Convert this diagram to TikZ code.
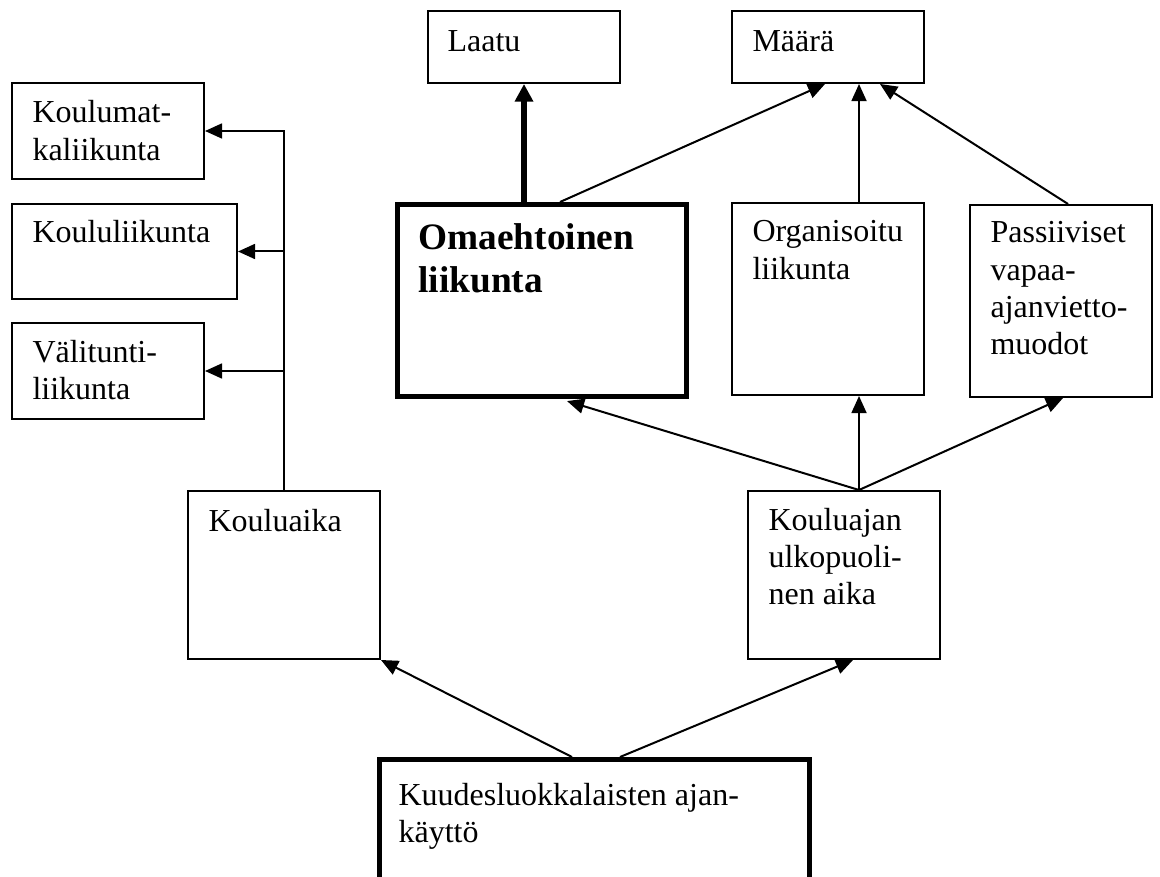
\documentclass[tikz,border=0pt]{standalone}
\usepackage{fontspec}
\setmainfont{Liberation Serif}
\usetikzlibrary{arrows.meta,calc}
\tikzset{
  sz/.style 2 args={minimum width=#1*0.375pt, minimum height=#2*0.375pt},
  box/.style={draw, line width=0.75pt, rectangle, inner sep=0pt, anchor=north west},
  tbox/.style={box, line width=1.9pt},
  lbl/.style={anchor=base west, inner sep=0pt, font=\fontsize{12}{13.9}\selectfont},
  blbl/.style={anchor=base west, inner sep=0pt, font=\fontsize{14}{15.8}\selectfont\bfseries},
  arr/.style={line width=0.75pt, -{Triangle[length=6.4pt,width=5.6pt]}},
  tarr/.style={line width=1.9pt, -{Triangle[length=6.6pt,width=6.6pt]}},
}
\newcommand{\lines}[1]{\parbox[t]{200pt}{\raggedright #1}}
\begin{document}
\begin{tikzpicture}[x=0.375pt, y=-0.375pt]
\useasboundingbox (0,0) rectangle (1160,876);
\clip (0,0) rectangle (1160,876);
% boxes
\node[box, sz={192}{96}]  (km)    at (11,82)   {};
\node[box, sz={225}{95}]  (kl)    at (11,203)  {};
\node[box, sz={192}{96}]  (vt)    at (11,322)  {};
\node[box, sz={192}{72}]  (laatu) at (427,10)  {};
\node[box, sz={192}{72}]  (maara) at (731,10)  {};
\node[tbox, sz={289}{192}] (omae) at (395,202) {};
\node[box, sz={192}{192}] (org)   at (731,202) {};
\node[box, sz={182}{192}] (pass)  at (969,204) {};
\node[box, sz={192}{168}] (ka)    at (187,490) {};
\node[box, sz={192}{168}] (kaj)   at (747,490) {};
\node[tbox, sz={430}{150}] (kuu)  at (377,757) {};
% texts
\node[lbl] (km-t) at ($(km.north west)+(21,41)$) {\lines{Koulumat-\\kaliikunta}};
\node[lbl] (kl-t) at ($(kl.north west)+(21,40)$) {\lines{Koululiikunta}};
\node[lbl] (vt-t) at ($(vt.north west)+(21,40)$) {\lines{Välitunti-\\liikunta}};
\node[lbl] (laatu-t) at ($(laatu.north west)+(20,42)$) {\lines{Laatu}};
\node[lbl] (maara-t) at ($(maara.north west)+(21,42)$) {\lines{Määrä}};
\node[blbl] (omae-t) at ($(omae.north west)+(23,48)$) {\parbox[t]{200pt}{\raggedright Omaehtoinen\\liikunta}};
\node[lbl] (org-t) at ($(org.north west)+(21,40)$) {\lines{Organisoitu\\liikunta}};
\node[lbl] (pass-t) at ($(pass.north west)+(21,39)$) {\lines{Passiiviset\\vapaa-\\ajanvietto-\\muodot}};
\node[lbl] (ka-t) at ($(ka.north west)+(21,41)$) {\lines{Kouluaika}};
\node[lbl] (kaj-t) at ($(kaj.north west)+(21,40)$) {\lines{Kouluajan\\ulkopuoli-\\nen aika}};
\node[lbl] (kuu-t) at ($(kuu.north west)+(21,48)$) {\lines{Kuudesluokkalaisten ajan-\\käyttö}};
% connectors
\draw[arr] (ka.north) -- (ka.north |- km.east) -- (km.east);
\draw[arr] (ka.north |- kl.east) -- (kl.east);
\draw[arr] (ka.north |- vt.east) -- (vt.east);
\draw[tarr] (omae.north -| laatu.south) -- (laatu.south);
\draw[arr] ($(omae.north west)+(165,0)$) -- ($(maara.south west)+(94,0)$);
\draw[arr] ($(org.north west)+(128,0)$) -- ($(maara.south west)+(128,0)$);
\draw[arr] ($(pass.north west)+(99,0)$) -- ($(maara.south west)+(149,0)$);
\coordinate (kajtop) at ($(kaj.north west)+(112,0)$);
\draw[arr] (kajtop) -- ($(omae.south west)+(172,2)$);
\draw[arr] (kajtop) -- ($(org.south west)+(128,0)$);
\draw[arr] (kajtop) -- ($(pass.south west)+(94,0)$);
\draw[arr] ($(kuu.north west)+(195,0)$) -- (ka.south east);
\draw[arr] ($(kuu.north west)+(243,0)$) -- ($(kaj.south west)+(106,0)$);
\end{tikzpicture}
\end{document}
